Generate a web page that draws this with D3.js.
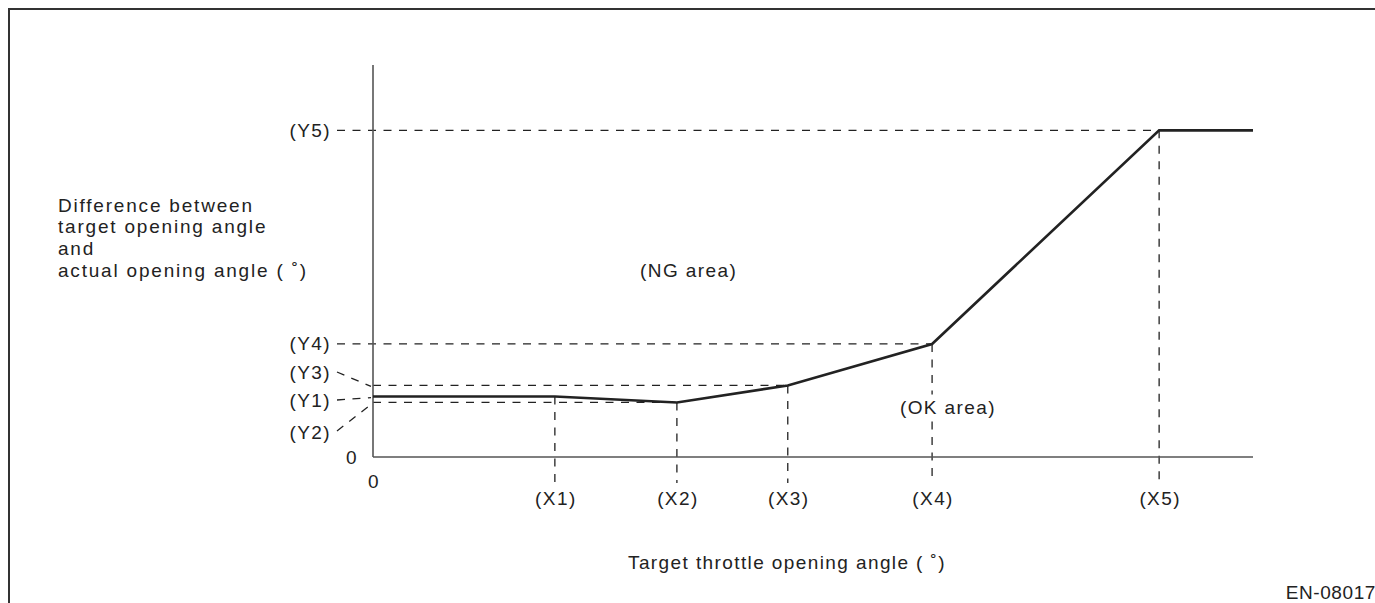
<!DOCTYPE html>
<html>
<head>
<meta charset="utf-8">
<script src="https://cdn.jsdelivr.net/npm/d3@7"></script>
<style>
  html, body { margin: 0; padding: 0; background: #fff; }
  svg { display: block; }
  text { font-family: "Liberation Sans", Arial, Helvetica, sans-serif; fill: #222; font-size: 19px; letter-spacing: 1.4px; }
</style>
</head>
<body>
<svg id="chart" width="1375" height="603"></svg>
<script>
// Break points of the judgement line (schematic positions on each axis)
const xKeys = ["X1", "X2", "X3", "X4", "X5"];
const xValues = [3.10, 5.18, 7.07, 9.53, 13.40];
const yKeys = ["Y5", "Y4", "Y3", "Y1", "Y2"];
const yValues = [10.0, 3.46, 2.19, 1.85, 1.67];
const xMax = 15;
const yMax = 12;

// Judgement line: Y1 flat to X1, dips to Y2 at X2, then Y3, Y4, Y5, flat afterwards
const curveX = [0, 3.10, 5.18, 7.07, 9.53, 13.40, 15];
const curveY = [1.85, 1.85, 1.67, 2.19, 3.46, 10.0, 10.0];

const xTitle = "Target throttle opening angle ( ˚)";
const yTitle = ["Difference between", "target opening angle", "and", "actual opening angle ( ˚)"];
const areaLabels = [
  { text: "(NG area)", x: 5.38, y: 5.7 },
  { text: "(OK area)", x: 9.8, y: 1.53 }
];
const figureCode = "EN-08017";

const svg = d3.select("#chart");
const x = d3.scaleLinear().domain([0, xMax]).range([373, 1253]);
const y = d3.scaleLinear().domain([0, yMax]).range([457, 65]);

const ink = "#222";
const axisInk = "#555";
const dash = "8,7.5";

// Outer frame (top and left edges)
svg.append("path")
  .attr("d", "M9,603 V9 H1375")
  .attr("fill", "none").attr("stroke", "#333").attr("stroke-width", 2);

const yVal = k => yValues[yKeys.indexOf(k)];
const xVal = k => xValues[xKeys.indexOf(k)];

// Horizontal reference lines from the labels to the break points
const guides = svg.append("g").attr("fill", "none").attr("stroke", ink)
  .attr("stroke-width", 1.3).attr("stroke-dasharray", dash);

const hGuides = [
  { yk: "Y5", xk: "X5", from: 337 },
  { yk: "Y4", xk: "X4", from: 337 },
  { yk: "Y3", xk: "X3", from: x(0) },
  { yk: "Y2", xk: "X2", from: x(0) }
];
hGuides.forEach(g => {
  guides.append("line")
    .attr("x1", g.from).attr("x2", x(xVal(g.xk)))
    .attr("y1", y(yVal(g.yk))).attr("y2", y(yVal(g.yk)));
});

// Leader lines for the closely spaced lower labels
const leaders = [
  { yk: "Y3", ly: 372, ty: y(yVal("Y3")) + 1 },
  { yk: "Y1", ly: 400, ty: y(yVal("Y1")) + 1 },
  { yk: "Y2", ly: 431, ty: y(yVal("Y2")) + 2 }
];
leaders.forEach(l => {
  guides.append("line")
    .attr("x1", 337).attr("y1", l.ly)
    .attr("x2", x(0) - 2).attr("y2", l.ty);
});

// Vertical reference lines from each break point down past the axis
xKeys.forEach((k, i) => {
  const yi = curveY[curveX.indexOf(xValues[i])];
  guides.append("line")
    .attr("x1", x(xValues[i])).attr("x2", x(xValues[i]))
    .attr("y1", y(yi)).attr("y2", y(0) + 26);
});

// Axes
const axes = svg.append("g").attr("stroke", axisInk).attr("stroke-width", 1.6).attr("fill", "none");
axes.append("line").attr("x1", x(0)).attr("x2", x(0)).attr("y1", y(yMax)).attr("y2", y(0));
axes.append("line").attr("x1", x(0)).attr("x2", x(xMax)).attr("y1", y(0)).attr("y2", y(0));

// Area labels (with a white backing so guide lines break around them)
areaLabels.forEach(a => {
  const t = svg.append("text")
    .attr("x", x(a.x)).attr("y", y(a.y))
    .attr("text-anchor", "middle").attr("dominant-baseline", "central")
    .text(a.text);
  const bb = t.node().getBBox();
  svg.insert("rect", () => t.node())
    .attr("x", bb.x - 4).attr("y", bb.y - 2)
    .attr("width", bb.width + 8).attr("height", bb.height + 4)
    .attr("fill", "#fff");
});

// Judgement line
svg.append("path")
  .datum(curveX.map((v, i) => [v, curveY[i]]))
  .attr("d", d3.line().x(d => x(d[0])).y(d => y(d[1])))
  .attr("fill", "none").attr("stroke", ink).attr("stroke-width", 2.6)
  .attr("stroke-linejoin", "miter");

// Y labels
const yLabelPos = { Y5: y(yVal("Y5")), Y4: 343, Y3: 372, Y1: 400, Y2: 432 };
yKeys.forEach(k => {
  svg.append("text")
    .attr("x", 331).attr("y", yLabelPos[k])
    .attr("text-anchor", "end").attr("dominant-baseline", "central")
    .text(`(${k})`);
});
svg.append("text").attr("x", 358).attr("y", y(0))
  .attr("text-anchor", "end").attr("dominant-baseline", "central").text("0");

// X labels
xKeys.forEach((k, i) => {
  svg.append("text")
    .attr("x", x(xValues[i]) + 1).attr("y", 498)
    .attr("text-anchor", "middle").attr("dominant-baseline", "central")
    .text(`(${k})`);
});
svg.append("text").attr("x", x(0) + 1).attr("y", 481)
  .attr("text-anchor", "middle").attr("dominant-baseline", "central").text("0");

// Axis titles
svg.append("text").attr("x", 787).attr("y", 562)
  .attr("text-anchor", "middle").attr("dominant-baseline", "central").text(xTitle);

yTitle.forEach((line, i) => {
  svg.append("text").attr("x", 58).attr("y", 205 + i * 21.7)
    .attr("dominant-baseline", "central")
    .style("letter-spacing", "1.8px").text(line);
});

// Figure code
svg.append("text").attr("x", 1376).attr("y", 592)
  .attr("text-anchor", "end").attr("dominant-baseline", "central")
  .style("letter-spacing", "0.6px").text(figureCode);
</script>
</body>
</html>
